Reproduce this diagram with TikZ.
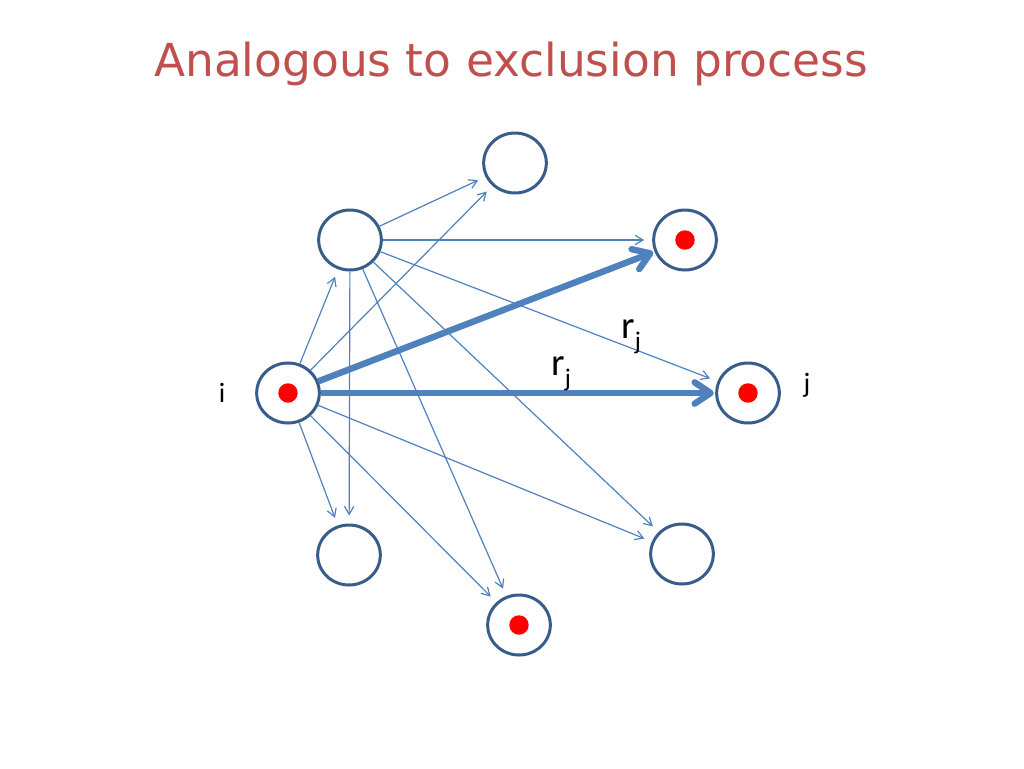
\documentclass[tikz,border=0pt]{standalone}
\usepackage{fontspec}
\usetikzlibrary{arrows.meta,shapes.geometric}

\newfontfamily\titlefont{DejaVu Sans}
\newfontfamily\labelfont{Carlito}

\definecolor{siteblue}{RGB}{56,93,138}
\definecolor{hopblue}{RGB}{79,129,189}
\definecolor{titlered}{RGB}{192,80,77}

\tikzset{every picture/.style={line width=0.75pt}}
\tikzset{
  site/.style={ellipse, draw=siteblue, line width=2.25pt, fill=white, inner sep=0pt, minimum width=47pt, minimum height=45pt},
  occupied/.style={site, path picture={\fill[red] (path picture bounding box.center) circle (7.3pt);}},
  hop/.style={draw=hopblue, line width=0.9pt, -{Straight Barb[length=6pt,width=7pt]}, shorten >=6pt},
  bighop/.style={draw=hopblue, line width=4.8pt, -{Straight Barb[length=12pt,width=16pt,round]}, shorten >=1pt},
  lbl/.style={font=\labelfont\fontsize{21}{21}\selectfont, inner sep=0pt}
}

\begin{document}
\begin{tikzpicture}[x=0.75pt,y=0.75pt,yscale=-1,xscale=1]
	\useasboundingbox (0,0) rectangle (1024,768);

	% Title
	\node[anchor=base, inner sep=0pt, text=titlered, font=\titlefont\fontsize{34.1}{34.1}\selectfont] (title) at (511,76) {Analogous to exclusion process};

	% Sites
	\node[site] (T) at (515,163) {};
	\node[site] (A) at (350,240) {};
	\node[occupied] (B) at (685,240) {};
	\node[occupied] (I) at (288,393) {};
	\node[occupied] (J) at (748,393) {};
	\node[site] (C) at (349,555) {};
	\node[site] (D) at (682,554) {};
	\node[occupied] (E) at (519,625) {};

	% Hops out of A
	\foreach \to in {T,B,J,D,E,C}
		\draw[hop] (A) -- (\to);
	% Hops out of i
	\foreach \to in {A,T,C,E,D}
		\draw[hop] (I) -- (\to);
	% Hops onto occupied sites
	\draw[bighop] (I) -- (B);
	\draw[bighop] (I) -- (J);

	% Text Node
	\node[lbl] (li) at (222,393) {i};
	% Text Node
	\node[lbl] (lj) at (807,385) {j};
	% Text Node
	\node[lbl, anchor=base west, font=\labelfont\fontsize{29}{29}\selectfont] (rup) at (621,338) {r\raisebox{-0.3em}{\fontsize{19}{19}\selectfont j}};
	% Text Node
	\node[lbl, anchor=base west, font=\labelfont\fontsize{29}{29}\selectfont] (rlow) at (551,375) {r\raisebox{-0.3em}{\fontsize{19}{19}\selectfont j}};

\end{tikzpicture}
\end{document}
